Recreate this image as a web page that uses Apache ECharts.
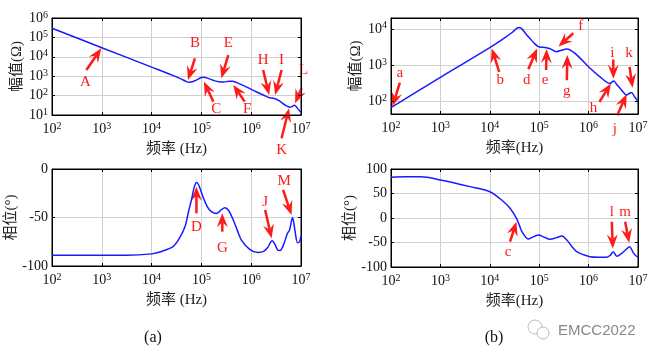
<!DOCTYPE html>
<html lang="zh">
<head>
<meta charset="UTF-8">
<title>阻抗幅频与相频特性</title>
<script src="https://cdn.jsdelivr.net/npm/echarts@6/dist/echarts.min.js"></script>
<style>
html, body { margin: 0; padding: 0; background: #fff; }
#main { width: 653px; height: 352px; }
</style>
</head>
<body>
<div id="main"></div>
<script>
// frequency given as log10(f/Hz), magnitude as log10(|Z|/Ω), phase in degrees

// (a) magnitude
var fMagA = [2.0, 3.0, 4.0, 4.4, 4.6, 4.7, 4.75, 4.82, 4.9, 5.0, 5.05, 5.12, 5.25, 5.35, 5.45, 5.55, 5.62, 5.7, 5.9, 6.1, 6.3, 6.38, 6.45, 6.55, 6.7, 6.78, 6.83, 6.87, 6.92, 7.0];
var zMagA = [5.47, 4.47, 3.47, 3.07, 2.85, 2.72, 2.69, 2.71, 2.80, 2.93, 2.94, 2.90, 2.78, 2.71, 2.70, 2.74, 2.74, 2.68, 2.45, 2.20, 1.96, 1.88, 1.86, 1.75, 1.48, 1.40, 1.45, 1.50, 1.38, 1.12];

// (a) phase
var fPhA = [2.0, 2.5, 3.0, 3.5, 4.0, 4.2, 4.43, 4.55, 4.67, 4.75, 4.8, 4.85, 4.9, 4.95, 5.03, 5.12, 5.2, 5.3, 5.4, 5.47, 5.55, 5.64, 5.72, 5.8, 5.97, 6.13, 6.25, 6.33, 6.42, 6.48, 6.53, 6.58, 6.65, 6.73, 6.77, 6.83, 6.88, 6.93, 6.97, 7.0];
var phA = [-89, -89, -89, -89, -87.5, -85, -80, -72, -59.5, -42, -32, -20, -14, -17, -28.5, -39, -44, -46, -42, -40, -43, -52.6, -63, -73, -82.8, -86, -85, -81, -74, -78, -83.5, -84, -78, -66, -63, -50, -64, -76, -75, -69];

// (b) magnitude
var fMagB = [2.0, 3.0, 4.0, 4.3, 4.45, 4.55, 4.6, 4.65, 4.72, 4.81, 4.9, 4.98, 5.08, 5.15, 5.22, 5.29, 5.35, 5.45, 5.56, 5.63, 5.76, 6.03, 6.25, 6.43, 6.51, 6.57, 6.64, 6.74, 6.77, 6.82, 6.87, 6.93, 7.0];
var zMagB = [1.82, 2.66, 3.48, 3.75, 3.90, 4.02, 4.04, 4.0, 3.88, 3.74, 3.60, 3.51, 3.49, 3.48, 3.45, 3.40, 3.37, 3.41, 3.44, 3.41, 3.28, 2.91, 2.65, 2.49, 2.56, 2.46, 2.35, 2.19, 2.17, 2.21, 2.24, 2.12, 2.0];

// (b) phase
var fPhB = [2.0, 2.3, 2.6, 3.0, 3.6, 4.0, 4.24, 4.41, 4.54, 4.6, 4.65, 4.72, 4.78, 4.85, 4.98, 5.1, 5.22, 5.35, 5.46, 5.56, 5.66, 5.76, 5.9, 6.03, 6.2, 6.37, 6.44, 6.5, 6.57, 6.67, 6.76, 6.83, 6.9, 6.94, 7.0];
var phB = [83, 84, 84, 77.6, 64, 53.7, 36.7, 19.8, -0.6, -15, -28, -38, -43, -40, -34.7, -39, -43.5, -40, -36.7, -45, -58, -68.8, -75, -79, -80, -80, -76, -68.8, -78, -72, -64, -58.6, -70, -75.5, -80];

// arrows: [label, tail f, tail v, head f, head v, label f, label v]  (same units as the curves)
var notesMagA = [
    ['A', 2.69, 3.32, 2.99, 4.44, 2.67, 2.72],
    ['B', 4.87, 3.92, 4.73, 2.80, 4.87, 4.73],
    ['C', 5.24, 1.69, 5.05, 2.72, 5.30, 1.31],
    ['E', 5.54, 4.09, 5.40, 2.89, 5.54, 4.73],
    ['F', 5.87, 1.69, 5.64, 2.55, 5.92, 1.29],
    ['H', 6.24, 3.32, 6.36, 2.03, 6.24, 3.84],
    ['I', 6.61, 3.32, 6.48, 2.03, 6.61, 3.84],
    ['K', 6.61, -0.2, 6.76, 1.35, 6.61, -0.8],
    ['L', 7.01, 2.38, 6.88, 1.60, 7.05, 3.32]
];
var notesPhA = [
    ['D', 4.90, -45.7, 4.90, -18.2, 4.90, -60],
    ['G', 5.42, -64.6, 5.42, -45.7, 5.42, -81],
    ['J', 6.28, -42.3, 6.41, -71.5, 6.28, -34],
    ['M', 6.64, -21.6, 6.81, -47.4, 6.66, -12.4]
];
var notesMagB = [
    ['a', 2.18, 2.51, 2.03, 1.86, 2.18, 2.79],
    ['b', 4.19, 2.81, 4.04, 3.46, 4.21, 2.58],
    ['d', 4.78, 2.88, 4.96, 3.46, 4.75, 2.58],
    ['e', 5.14, 2.86, 5.15, 3.44, 5.12, 2.58],
    ['f', 5.69, 3.88, 5.39, 3.51, 5.84, 4.08],
    ['g', 5.56, 2.58, 5.57, 3.28, 5.56, 2.29],
    ['h', 6.22, 1.98, 6.45, 2.49, 6.10, 1.80],
    ['i', 6.50, 3.15, 6.50, 2.62, 6.48, 3.34],
    ['j', 6.58, 1.61, 6.77, 2.19, 6.53, 1.24],
    ['k', 6.83, 2.95, 6.89, 2.37, 6.82, 3.32]
];
var notesPhB = [
    ['c', 4.41, -48.4, 4.54, -7.5, 4.37, -68.8],
    ['l', 6.47, -7.5, 6.49, -62, 6.47, 12.9],
    ['m', 6.74, -7.5, 6.82, -50.4, 6.74, 12.9]
];

var serif = "'Liberation Serif', 'Noto Sans CJK SC'";
var RED = '#ff1a1a';

function pow10(e) { return Math.pow(10, e); }
function toPairs(fs, vs, logV) {
    return fs.map(function (f, i) { return [pow10(f), logV ? pow10(vs[i]) : vs[i]]; });
}
function powLabel(v) {
    var e = Math.log(v) / Math.LN10;
    if (Math.abs(e - Math.round(e)) > 1e-6) return '';
    return '{b|10}{s|' + Math.round(e) + '}';
}
var richPow = {
    b: { fontFamily: serif, fontSize: 14, color: '#111', lineHeight: 16 },
    s: { fontFamily: serif, fontSize: 10, color: '#111', verticalAlign: 'top', lineHeight: 10 }
};
var tickIn = { show: true, inside: true, length: 3, lineStyle: { color: '#000' } };

function xAxis(grid, name) {
    return {
        type: 'log', logBase: 10, gridIndex: grid, min: 100, max: 1e7,
        name: name, nameLocation: 'middle', nameGap: 27,
        nameTextStyle: { fontFamily: serif, fontSize: 15, color: '#222' },
        axisLine: { show: true, onZero: false, lineStyle: { color: '#000' } },
        axisTick: tickIn,
        splitLine: { show: true, lineStyle: { color: '#cfcfcf' } },
        axisLabel: { formatter: powLabel, rich: richPow, margin: 6 }
    };
}
function yLog(grid, min, max) {
    return {
        type: 'log', logBase: 10, gridIndex: grid, min: min, max: max,
        name: '幅值(Ω)', nameLocation: 'middle', nameGap: 27,
        nameTextStyle: { fontFamily: serif, fontSize: 15, color: '#222' },
        axisLine: { show: true, onZero: false, lineStyle: { color: '#000' } },
        axisTick: tickIn,
        splitLine: { show: true, lineStyle: { color: '#cfcfcf' } },
        axisLabel: { formatter: powLabel, rich: richPow, margin: 4 }
    };
}
function yPhase(grid, min, max) {
    return {
        type: 'value', gridIndex: grid, min: min, max: max, interval: 50,
        name: '相位(°)', nameLocation: 'middle', nameGap: 32,
        nameTextStyle: { fontFamily: serif, fontSize: 15, color: '#222' },
        axisLine: { show: true, onZero: false, lineStyle: { color: '#000' } },
        axisTick: tickIn,
        splitLine: { show: true, lineStyle: { color: '#cfcfcf' } },
        axisLabel: { fontFamily: serif, fontSize: 14, color: '#111', margin: 4 }
    };
}
// top / right copies that only carry the inward ticks of the frame
function mirror(ax, pos) {
    return Object.assign({}, ax, {
        position: pos, name: '', axisLabel: { show: false },
        splitLine: { show: false }, axisTick: tickIn
    });
}
function curve(i, data) {
    return {
        type: 'line', xAxisIndex: i, yAxisIndex: i, data: data,
        showSymbol: false, smooth: 0.3, silent: true,
        lineStyle: { color: '#1a1aff', width: 1.5 }
    };
}

var xs = [xAxis(0, '频率 (Hz)'), xAxis(1, '频率(Hz)'), xAxis(2, '频率 (Hz)'), xAxis(3, '频率(Hz)')];
var ys = [yLog(0, 10, 1e6), yLog(1, 44, 20000), yPhase(2, -100, 0), yPhase(3, -100, 100)];

var chart = echarts.init(document.getElementById('main'));
var gridBox = { show: true, borderColor: '#000', borderWidth: 1, backgroundColor: 'transparent' };

chart.setOption({
    animation: false,
    grid: [
        Object.assign({ left: 52, top: 18, width: 249, height: 97 }, gridBox),
        Object.assign({ left: 391, top: 18, width: 247, height: 96 }, gridBox),
        Object.assign({ left: 52, top: 169, width: 249, height: 97 }, gridBox),
        Object.assign({ left: 391, top: 169, width: 247, height: 98 }, gridBox)
    ],
    xAxis: xs.concat(xs.map(function (a) { return mirror(a, 'top'); })),
    yAxis: ys.concat(ys.map(function (a) { return mirror(a, 'right'); })),
    series: [
        curve(0, toPairs(fMagA, zMagA, true)),
        curve(1, toPairs(fMagB, zMagB, true)),
        curve(2, toPairs(fPhA, phA, false)),
        curve(3, toPairs(fPhB, phB, false))
    ]
});

// annotations placed through the axes' own scales
function arrow(p0, p1) {
    var dx = p1[0] - p0[0], dy = p1[1] - p0[1];
    var len = Math.sqrt(dx * dx + dy * dy);
    var ux = dx / len, uy = dy / len, nx = -uy, ny = ux;
    var hl = 14, hw = 5.5, notch = 9;
    var base = [p1[0] - ux * hl, p1[1] - uy * hl];
    var mid = [p1[0] - ux * notch, p1[1] - uy * notch];
    return [
        { type: 'line', silent: true, shape: { x1: p0[0], y1: p0[1], x2: mid[0], y2: mid[1] },
          style: { stroke: RED, lineWidth: 2.5 } },
        { type: 'polygon', silent: true,
          shape: { points: [p1, [base[0] + nx * hw, base[1] + ny * hw], mid, [base[0] - nx * hw, base[1] - ny * hw]] },
          style: { fill: RED } }
    ];
}
var graphics = [];
function addNotes(grid, notes, logV) {
    notes.forEach(function (n) {
        var v = function (x) { return logV ? pow10(x) : x; };
        var t = chart.convertToPixel({ gridIndex: grid }, [pow10(n[1]), v(n[2])]);
        var h = chart.convertToPixel({ gridIndex: grid }, [pow10(n[3]), v(n[4])]);
        var l = chart.convertToPixel({ gridIndex: grid }, [pow10(n[5]), v(n[6])]);
        graphics = graphics.concat(arrow(t, h));
        graphics.push({
            type: 'text', silent: true, x: l[0], y: l[1],
            style: { text: n[0], fill: RED, font: '15px ' + serif, textAlign: 'center', textVerticalAlign: 'middle' }
        });
    });
}
addNotes(0, notesMagA, true);
addNotes(1, notesMagB, true);
addNotes(2, notesPhA, false);
addNotes(3, notesPhB, false);

graphics.push(
    { type: 'text', x: 153, y: 338, style: { text: '(a)', fill: '#111', font: '16px ' + serif, textAlign: 'center', textVerticalAlign: 'middle' } },
    { type: 'text', x: 494, y: 338, style: { text: '(b)', fill: '#111', font: '16px ' + serif, textAlign: 'center', textVerticalAlign: 'middle' } },
    { type: 'circle', shape: { cx: 535, cy: 327, r: 7 }, style: { fill: '#fff', stroke: '#bbb', lineWidth: 1 } },
    { type: 'circle', shape: { cx: 543, cy: 333, r: 6 }, style: { fill: '#fff', stroke: '#bbb', lineWidth: 1 } },
    { type: 'text', x: 558, y: 331, style: { text: 'EMCC2022', fill: '#888', font: "15px 'Liberation Sans'", textVerticalAlign: 'middle' } }
);
chart.setOption({ graphic: graphics });
</script>
</body>
</html>
